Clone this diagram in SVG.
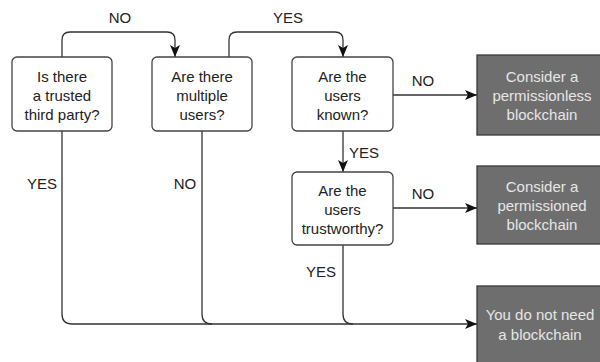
<svg xmlns="http://www.w3.org/2000/svg" width="600" height="362" viewBox="0 0 600 362">
  <defs>
    <marker id="arrow" viewBox="0 0 12 10" refX="12" refY="5" markerWidth="12" markerHeight="10" markerUnits="userSpaceOnUse" orient="auto">
      <path d="M0,0 L12,5 L0,10 L3,5 Z" fill="#111"/>
    </marker>
    <style>
      text { font-family: "Liberation Sans", Arial, sans-serif; font-size: 15px; text-anchor: middle; }
      .q rect { fill: #ffffff; stroke: #444; stroke-width: 1.3; }
      .q text { fill: #222; }
      .r rect { fill: #6e6e6e; stroke: #3a3a3a; stroke-width: 1.3; }
      .r text { fill: #e6e6e6; }
      .lbl { fill: #222; }
      #connectors path { fill: none; stroke: #333; stroke-width: 1.3; }
    </style>
  </defs>
  <rect width="600" height="362" fill="#ffffff"/>

  <g id="connectors">
    <path d="M62,57 V40 Q62,32 70,32 H167 Q175,32 175,40 V57" marker-end="url(#arrow)"/>
    <path d="M229,57 V40 Q229,32 237,32 H335 Q343,32 343,40 V57" marker-end="url(#arrow)"/>
    <path d="M393,95 H477" marker-end="url(#arrow)"/>
    <path d="M343,131 V172" marker-end="url(#arrow)"/>
    <path d="M393,208 H477" marker-end="url(#arrow)"/>
    <path d="M62,131 V314 Q62,324 72,324 H477" marker-end="url(#arrow)"/>
    <path d="M202,131 V314 Q202,324 212,324"/>
    <path d="M343,245 V314 Q343,324 353,324"/>
    <text class="lbl" x="120" y="23">NO</text>
    <text class="lbl" x="288" y="23">YES</text>
    <text class="lbl" x="423" y="86">NO</text>
    <text class="lbl" x="364" y="158">YES</text>
    <text class="lbl" x="423" y="199">NO</text>
    <text class="lbl" x="321" y="277">YES</text>
    <text class="lbl" x="42" y="189">YES</text>
    <text class="lbl" x="185" y="189">NO</text>
  </g>

  <g id="q-third-party" class="q">
    <rect x="12" y="57" width="100" height="74" rx="5"/>
    <text x="62" y="82">Is there</text>
    <text x="62" y="101">a trusted</text>
    <text x="62" y="120">third party?</text>
  </g>
  <g id="q-multiple-users" class="q">
    <rect x="152" y="57" width="100" height="74" rx="5"/>
    <text x="202" y="82">Are there</text>
    <text x="202" y="101">multiple</text>
    <text x="202" y="120">users?</text>
  </g>
  <g id="q-users-known" class="q">
    <rect x="292" y="57" width="101" height="74" rx="5"/>
    <text x="342.5" y="82">Are the</text>
    <text x="342.5" y="101">users</text>
    <text x="342.5" y="120">known?</text>
  </g>
  <g id="q-users-trustworthy" class="q">
    <rect x="292" y="172" width="101" height="73" rx="5"/>
    <text x="342.5" y="196">Are the</text>
    <text x="342.5" y="215">users</text>
    <text x="342.5" y="234">trustworthy?</text>
  </g>

  <g id="r-permissionless" class="r">
    <rect x="477" y="55" width="130" height="80"/>
    <text x="542" y="82">Consider a</text>
    <text x="542" y="101">permissionless</text>
    <text x="542" y="120">blockchain</text>
  </g>
  <g id="r-permissioned" class="r">
    <rect x="477" y="166" width="130" height="78"/>
    <text x="542" y="192">Consider a</text>
    <text x="542" y="211">permissioned</text>
    <text x="542" y="230">blockchain</text>
  </g>
  <g id="r-no-blockchain" class="r">
    <rect x="477" y="286" width="130" height="90"/>
    <text x="540" y="320">You do not need</text>
    <text x="540" y="340">a blockchain</text>
  </g>
</svg>
